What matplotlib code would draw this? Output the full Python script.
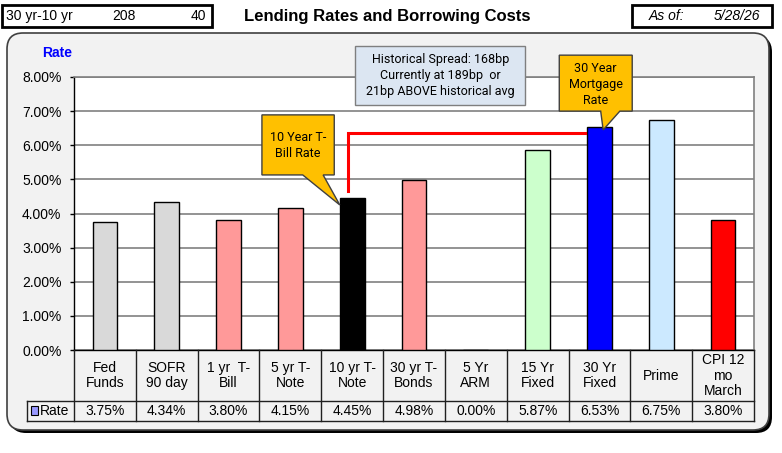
import matplotlib
matplotlib.use("Agg")
import matplotlib.pyplot as plt
from matplotlib.patches import Rectangle, FancyBboxPatch, Polygon

# ---------------- data ----------------
categories = ["Fed\nFunds", "SOFR\n90 day", "1 yr  T-\nBill", "5 yr T-\nNote", "10 yr T-\nNote",
              "30 yr T-\nBonds", "5 Yr\nARM", "15 Yr\nFixed", "30 Yr\nFixed", "Prime", "CPI 12\nmo\nMarch"]
rates = [3.75, 4.34, 3.80, 4.15, 4.45, 4.98, 0.00, 5.87, 6.53, 6.75, 3.80]
bar_colors = ["#d9d9d9", "#d9d9d9", "#ff9999", "#ff9999", "#000000", "#ff9999",
              "#ffffff", "#ccffcc", "#0000ff", "#cce9ff", "#ff0000"]
yticks = [0, 1, 2, 3, 4, 5, 6, 7, 8]
series_name = "Rate"
title = "Lending Rates and Borrowing Costs"
spread_label = "30 yr-10 yr"
spread_now = "208"
spread_delta = "40"
as_of = "5/28/26"
hist_spread = 168
curr_spread = 189
diff_spread = 21

W, H = 782, 453
fig = plt.figure(figsize=(W / 100, H / 100), dpi=100)
fig.patch.set_facecolor("white")

def fx(px):
    return px / W

def fy(py):
    return 1 - py / H

inch = fig.dpi_scale_trans

# rounded outer panel with shadow
shadow = FancyBboxPatch((10 / 100, (H - 433) / 100), 762 / 100, 397 / 100,
                        boxstyle="round,pad=0,rounding_size=0.16", transform=inch,
                        facecolor="#000000", edgecolor="none", zorder=-3)
panel = FancyBboxPatch((7 / 100, (H - 430) / 100), 762 / 100, 397 / 100,
                       boxstyle="round,pad=0,rounding_size=0.16", transform=inch,
                       facecolor="#f2f2f2", edgecolor="#404040", linewidth=1.2, zorder=-2)
fig.patches.extend([shadow, panel])

# header boxes
for x0, x1 in [(2, 212), (632, 772)]:
    fig.patches.append(Rectangle((fx(x0), fy(27)), fx(x1) - fx(x0), fy(5) - fy(27),
                                 transform=fig.transFigure, facecolor="white",
                                 edgecolor="black", linewidth=2, zorder=-1))
fsans = ["Liberation Sans", "DejaVu Sans"]
fig.text(fx(6), fy(16), spread_label, ha="left", va="center", fontsize=10, family=fsans)
fig.text(fx(124), fy(16), spread_now, ha="center", va="center", fontsize=10, family=fsans)
fig.text(fx(206), fy(16), spread_delta, ha="right", va="center", fontsize=10, family=fsans)
fig.text(fx(649), fy(16), "As of:", ha="left", va="center", fontsize=10, style="italic", family=fsans)
fig.text(fx(760), fy(16), as_of, ha="right", va="center", fontsize=10, style="italic", family=fsans)
fig.text(fx(387), fy(16), title, ha="center", va="center", fontsize=12, fontweight="bold", family=fsans)
fig.text(fx(57), fy(53), series_name, ha="center", va="center", fontsize=10, fontweight="bold",
         color="#0000ff", family=fsans)

# ---------------- axes ----------------
ax = fig.add_axes([fx(74), fy(350), fx(754) - fx(74), fy(77) - fy(350)])
ax.set_facecolor("white")
x = list(range(len(categories)))
ax.bar(x, rates, width=0.4, color=bar_colors, edgecolor="black", linewidth=1, zorder=3)
ax.set_xlim(-0.5, len(categories) - 0.5)
ax.set_ylim(0, 8)
ax.set_yticks(yticks)
ax.set_yticklabels([f"{v:.2f}%" for v in yticks], family=fsans, fontsize=10)
ax.grid(axis="y", color="#808080", linewidth=1.2, zorder=1)
ax.tick_params(axis="x", bottom=False, labelbottom=False)
ax.tick_params(axis="y", direction="out", length=3, width=1, color="black", pad=6)
for s in ["top", "right"]:
    ax.spines[s].set_color("#808080")
    ax.spines[s].set_linewidth(1.2)
ax.spines["left"].set_color("black")
ax.spines["bottom"].set_color("black")
ax.spines["left"].set_linewidth(1)
ax.spines["bottom"].set_linewidth(1)

# ---------------- data table ----------------
tr = ax.get_xaxis_transform()
ppx = (754 - 74) / len(categories)
r1 = 51 / 273
r2 = 71 / 273
leg_left = (27 - 74) / ppx - 0.5
line_kw = dict(color="#202020", linewidth=1, transform=tr, clip_on=False, zorder=4)
for i in range(len(categories) + 1):
    ax.plot([i - 0.5, i - 0.5], [0, -r2], **line_kw)
ax.plot([leg_left, leg_left], [-r1, -r2], **line_kw)
ax.plot([leg_left, len(categories) - 0.5], [-r1, -r1], **line_kw)
ax.plot([leg_left, len(categories) - 0.5], [-r2, -r2], **line_kw)
for i, (c, v) in enumerate(zip(categories, rates)):
    ax.text(i, -r1 / 2, c, transform=tr, ha="center", va="center", fontsize=10,
            family=fsans, linespacing=1.15)
    ax.text(i, -(r1 + r2) / 2, f"{v:.2f}%", transform=tr, ha="center", va="center",
            fontsize=10, family=fsans)
mk_x0 = (31 - 74) / ppx - 0.5
mk_x1 = (38 - 74) / ppx - 0.5
ax.add_patch(Rectangle((mk_x0, (350 - 415) / 273), mk_x1 - mk_x0, 9 / 273, transform=tr,
                       facecolor="#9999ff", edgecolor="black", linewidth=0.8,
                       clip_on=False, zorder=5))
ax.text((40 - 74) / ppx - 0.5, -(r1 + r2) / 2, series_name, transform=tr, ha="left",
        va="center", fontsize=10, family=fsans)

# ---------------- annotations ----------------
cfont = ["Roboto", "DejaVu Sans"]
call_kw = dict(facecolor="#ffc000", edgecolor="#404040", linewidth=1, clip_on=False,
               zorder=6, closed=True)

# red spread connector
i10, i30 = 4, 8
ax.plot([3.93, 3.93, 7.77], [rates[i10] + 0.21, 6.36, 6.36], color="#ff0000",
        linewidth=2.2, zorder=4, solid_joinstyle="miter")

# 10 year callout
bx0, bx1, by0, by1 = 2.54, 3.71, 5.13, 6.89
ax.add_patch(Polygon([(bx0, by0), (3.20, by0), (i10 - 0.2, rates[i10] - 0.2), (3.53, by0),
                      (bx1, by0), (bx1, by1), (bx0, by1)], **call_kw))
ax.text((bx0 + bx1) / 2, 5.98, "10 Year T-\nBill Rate", ha="center", va="center",
        fontsize=9, family=cfont, zorder=7, linespacing=1.3)

# 30 year callout
bx0, bx1, by0, by1 = 7.35, 8.53, 7.0, 8.64
ax.add_patch(Polygon([(bx0, by0), (8.02, by0), (i30 + 0.06, rates[i30] - 0.08), (8.33, by0),
                      (bx1, by0), (bx1, by1), (bx0, by1)], **call_kw))
ax.text((bx0 + bx1) / 2, 7.79, "30 Year\nMortgage\nRate", ha="center", va="center",
        fontsize=9, family=cfont, zorder=7, linespacing=1.3)

# spread info box
ax.add_patch(Rectangle((4.05, 7.18), 2.75, 1.73, facecolor="#dce6f2", edgecolor="#7f7f7f",
                       linewidth=1, clip_on=False, zorder=6))
ax.text(5.425, 8.03,
        f"Historical Spread: {hist_spread}bp\nCurrently at {curr_spread}bp  or\n"
        f"{diff_spread}bp ABOVE historical avg",
        ha="center", va="center", fontsize=9, family=cfont, zorder=7, linespacing=1.3)

fig.savefig("out.png", dpi=100, facecolor=fig.get_facecolor())
